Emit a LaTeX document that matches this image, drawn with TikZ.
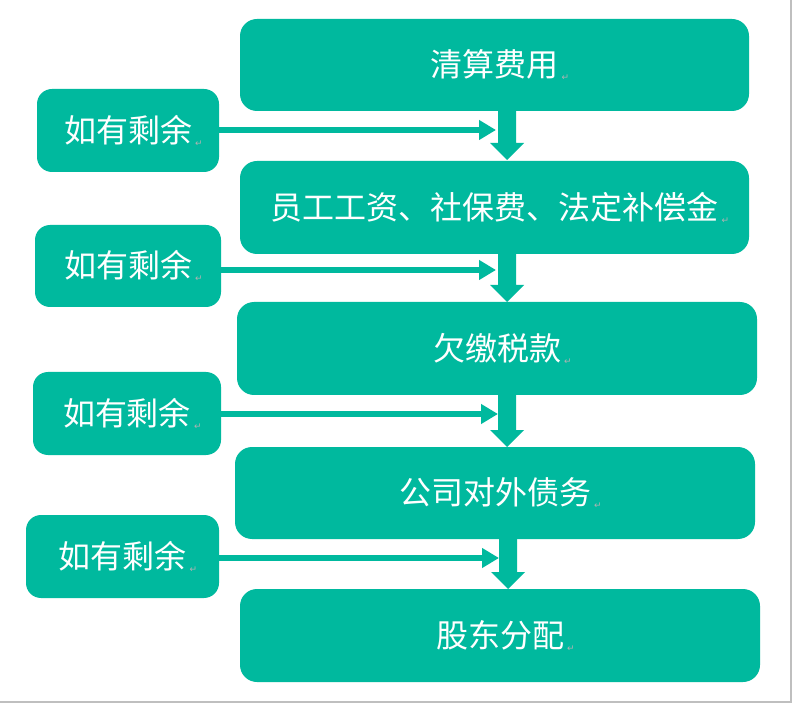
\documentclass[tikz,border=0pt]{standalone}
\usepackage{fontspec}
\newfontfamily\cjk{Noto Sans CJK SC}
\newfontfamily\symf{DejaVu Sans}
\usetikzlibrary{calc,arrows.meta}
\definecolor{tealc}{RGB}{0,185,158}
\newcommand\pmark{\rlap{\hspace{3pt}\raisebox{-4pt}{\symf\fontsize{9}{9}\selectfont\color{black!30}↵}}}
\newcommand\varrow[2]{\fill[tealc] ($(#1.south -| #2)+(-9,-1)$) -- ($(#2)+(-9,-17)$) -- ($(#2)+(-17,-17)$) -- (#2) -- ($(#2)+(17,-17)$) -- ($(#2)+(9,-17)$) -- ($(#1.south -| #2)+(9,-1)$) -- cycle;}
\begin{document}
\begin{tikzpicture}[x=1pt,y=-1pt,
  bigbox/.style={fill=tealc,rounded corners=17pt,text=white,font=\cjk\fontsize{32}{32}\selectfont,inner sep=0pt},
  sidebox/.style={fill=tealc,rounded corners=15pt,text=white,font=\cjk\fontsize{32}{32}\selectfont,inner sep=0pt},
  harrow/.style={draw=tealc,line width=6pt,-{Triangle[width=19pt,length=17pt]}}]
\useasboundingbox (0,0) rectangle (793,703);
\fill[white] (0,0) rectangle (793,703);
\draw[black!25,line width=2pt] (791,0) -- (791,702) -- (0,702);
% main boxes
\node[bigbox,minimum width=509pt,minimum height=92pt] (B1) at (494.5,65) {\raisebox{-2pt}{清算费用\pmark}};
\node[bigbox,minimum width=509pt,minimum height=93pt] (B2) at (494.5,207.5) {\raisebox{-2pt}{员工工资、社保费、法定补偿金\pmark}};
\node[bigbox,minimum width=520pt,minimum height=93pt] (B3) at (497,348.5) {\raisebox{-2pt}{欠缴税款\pmark}};
\node[bigbox,minimum width=520pt,minimum height=92pt] (B4) at (495,493) {\raisebox{-2pt}{公司对外债务\pmark}};
\node[bigbox,minimum width=520pt,minimum height=93pt] (B5) at (500,635.5) {\raisebox{-2pt}{股东分配\pmark}};
% side boxes
\node[sidebox,minimum width=182pt,minimum height=83pt] (L1) at (128,130.5) {如有剩余\pmark};
\node[sidebox,minimum width=186pt,minimum height=82pt] (L2) at (128,266) {如有剩余\pmark};
\node[sidebox,minimum width=188pt,minimum height=83pt] (L3) at (127,413.5) {如有剩余\pmark};
\node[sidebox,minimum width=193pt,minimum height=83pt] (L4) at (122.5,556.5) {如有剩余\pmark};
% arrow coordinates
\coordinate (h1) at (496,130);
\coordinate (h2) at (496,270);
\coordinate (h3) at (498,414);
\coordinate (h4) at (499,558);
\coordinate (v1) at (507,160);
\coordinate (v2) at (507,302);
\coordinate (v3) at (507,447);
\coordinate (v4) at (508,589);
% horizontal arrows
\draw[harrow] (L1.east |- h1) -- (h1);
\draw[harrow] (L2.east |- h2) -- (h2);
\draw[harrow] (L3.east |- h3) -- (h3);
\draw[harrow] (L4.east |- h4) -- (h4);
% vertical block arrows
\varrow{B1}{v1}
\varrow{B2}{v2}
\varrow{B3}{v3}
\varrow{B4}{v4}
\end{tikzpicture}
\end{document}
